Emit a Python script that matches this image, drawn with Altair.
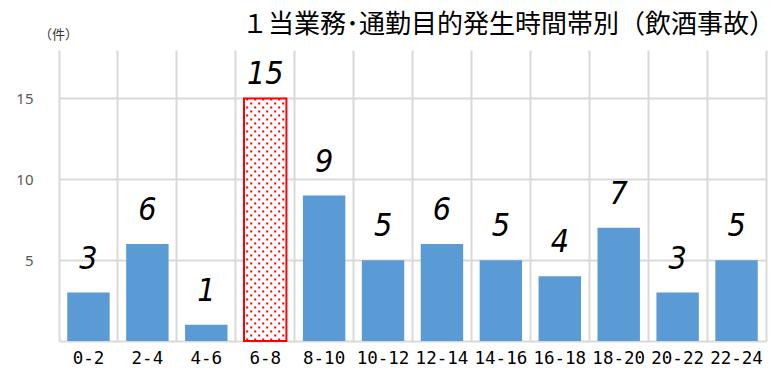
import altair as alt
import pandas as pd

# Accidents by time of occurrence (2-hour bands), drink-driving cases
time_bands = ["0-2", "2-4", "4-6", "6-8", "8-10", "10-12",
              "12-14", "14-16", "16-18", "18-20", "20-22", "22-24"]
counts = [3, 6, 1, 15, 9, 5, 6, 5, 4, 7, 3, 5]
peak_band = "6-8"

df = pd.DataFrame({"band": time_bands, "count": counts})
df["peak"] = df["band"] == peak_band

GRID = "#d9d9d9"
BLUE = "#5b9bd5"
RED = "#ff0000"
JP = "Noto Sans CJK JP"
NUM = "'Liberation Sans Narrow', 'DejaVu Sans Condensed', Roboto, sans-serif"

x_enc = alt.X(
    "band:N",
    sort=time_bands,
    title=None,
    scale=alt.Scale(paddingInner=0, paddingOuter=0),
    axis=alt.Axis(
        labelAngle=0, labelFont="DejaVu Sans Mono", labelFontSize=17.5,
        labelColor="#000000", labelPadding=8, ticks=False, grid=True,
        bandPosition=0, gridColor=GRID, gridWidth=2, domainColor=GRID,
        domainWidth=2,
    ),
)
y_scale = alt.Scale(domain=[0, 18], nice=False)

base = alt.Chart(df)

bars = base.transform_filter(~alt.datum.peak).mark_bar(
    color=BLUE, width=alt.RelativeBandSize(0.72)
).encode(
    x=x_enc,
    y=alt.Y(
        "count:Q", scale=y_scale,
        axis=alt.Axis(
            values=[5, 10, 15], ticks=False, domain=False, grid=True,
            gridColor=GRID, gridWidth=2, labelFont="Noto Sans",
            labelFontSize=15, labelColor="#595959", labelPadding=26,
            title="（件）", titleAngle=0, titleFont=JP, titleFontSize=13,
            titleFontWeight="normal", titleColor="#333333",
            titleX=-1, titleY=-16, titleAlign="center", titleBaseline="middle",
        ),
    ),
)

peak = base.transform_filter(alt.datum.peak)

peak_fill = peak.mark_bar(
    fill="#ffffff", width=alt.RelativeBandSize(0.72)
).encode(x=x_enc, y=alt.Y("count:Q", scale=y_scale))

# dotted texture inside the highlighted bar: staggered dashed columns
dot_layers = []
for i, off in enumerate(range(-18, 19, 4)):
    dot_layers.append(
        peak.mark_rule(
            color=RED, strokeWidth=2, strokeDash=[2, 6],
            strokeDashOffset=4 if i % 2 else 0, xOffset=off,
        ).encode(
            x=x_enc,
            y=alt.Y("count:Q", scale=y_scale),
            y2=alt.datum(0),
        )
    )

peak_outline = peak.mark_bar(
    fill=None, stroke=RED, strokeWidth=2, width=alt.RelativeBandSize(0.72)
).encode(x=x_enc, y=alt.Y("count:Q", scale=y_scale))

plot = alt.layer(bars, peak_fill, *dot_layers, peak_outline)

text_style = dict(font=NUM, fontSize=32, fontStyle="italic",
                  color="#000000", baseline="bottom", align="center")

labels = base.transform_filter(~alt.datum.peak).mark_text(
    dy=-17, **text_style
).encode(
    x=x_enc,
    y=alt.Y(
        "count:Q", scale=y_scale,
        axis=alt.Axis(orient="right", labels=False, ticks=False, grid=False,
                      domain=True, domainColor=GRID, domainWidth=2, title=None),
    ),
    text="count:Q",
)
peak_label = peak.mark_text(dy=-8, **text_style).encode(
    x=x_enc, y=alt.Y("count:Q", scale=y_scale), text="count:Q"
)

chart = alt.layer(
    plot, alt.layer(labels, peak_label)
).resolve_axis(y="independent").properties(
    width=707,
    height=291,
    autosize=alt.AutoSizeParams(type="none"),
    padding={"left": 59, "top": 50, "right": 10, "bottom": 31},
    title=alt.Title(
        "１当業務･通勤目的発生時間帯別（飲酒事故）",
        anchor="end", font=JP, fontSize=26, fontWeight="normal",
        color="#000000", offset=-10, dx=9,
    ),
).configure_view(stroke=None)

chart.save("out.html", embed_options={"renderer": "svg", "actions": False})
